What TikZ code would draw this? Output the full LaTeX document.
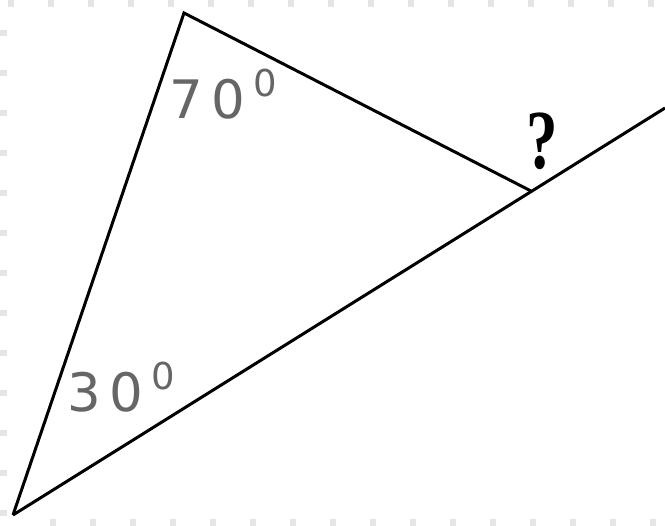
\documentclass[tikz,border=0pt]{standalone}
\usepackage{fontspec}
\setmainfont{DejaVu Sans}
\newfontfamily\qfont{Liberation Serif}
\begin{document}
\begin{tikzpicture}[x=1pt,y=-1pt,
  edge/.style={line width=3pt,black},
  anglelabel/.style={text=black!60,inner sep=0pt,anchor=south west,font=\fontsize{53}{53}\selectfont},
  tick/.style={line width=7pt,black!10,dash pattern=on 6pt off 34pt}]
\useasboundingbox[fill=white] (0,0) rectangle (665,526);
% faint scan border
\draw[tick] (8,4) -- (665,4);
\draw[tick] (3,30) -- (3,526);
\draw[tick,dash phase=20pt] (30,523) -- (665,523);
% geometry
\coordinate (A) at (13,515);
\coordinate (B) at (184,13);
\coordinate (C) at (531,191);
\coordinate (E) at (665,108);
\draw[edge,line join=miter] (C) -- (B) -- (A);
\draw[edge] (A) -- (E);
% labels
\node[anglelabel] (l70) at (169,119) {7\hspace{9pt}0\hspace{8pt}\raisebox{22pt}{\fontsize{37}{37}\selectfont 0}};
\node[anglelabel] (l30) at (67,412) {3\hspace{9pt}0\hspace{8pt}\raisebox{22pt}{\fontsize{37}{37}\selectfont 0}};
\node[inner sep=0pt,anchor=south] (q) at (542,170) {\scalebox{0.75}[1]{\qfont\bfseries\fontsize{84}{84}\selectfont ?}};
\end{tikzpicture}
\end{document}
